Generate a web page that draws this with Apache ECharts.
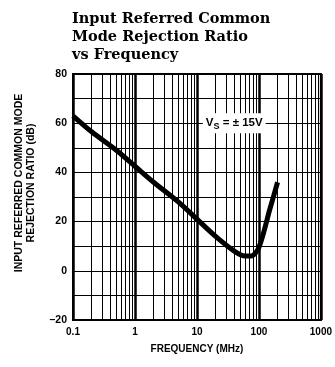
<!DOCTYPE html>
<html>
<head>
<meta charset="utf-8">
<script src="https://cdn.jsdelivr.net/npm/echarts@6/dist/echarts.min.js"></script>
<style>
  html, body { margin: 0; padding: 0; background: #fff; }
  #chart { width: 335px; height: 367px; }
</style>
</head>
<body>
<div id="chart"></div>
<script>
// curve
const freqMHz = [0.1, 0.2, 0.5, 1, 2, 5, 10, 20, 40, 60, 75, 100, 150, 200];
const cmrrDb = [63, 56.5, 49, 42.5, 36, 28, 21, 14, 8, 6, 6, 9.5, 25, 36];

// minor decade grid lines (2..9 of each decade)
const minorFreqs = [];
[0.1, 1, 10, 100].forEach(d => {
  for (let k = 2; k <= 9; k++) minorFreqs.push(+(d * k).toPrecision(3));
});

const yTickLabels = { '-20': '\u201320', '0': '0', '20': '20', '40': '40', '60': '60', '80': '80' };

const chart = echarts.init(document.getElementById('chart'));

const labelFont = 'Liberation Sans';

chart.setOption({
  animation: false,
  title: {
    text: 'Input Referred Common\nMode Rejection Ratio\nvs Frequency',
    left: 72,
    top: 10,
    padding: 0,
    textStyle: {
      fontFamily: 'DejaVu Serif',
      fontWeight: 'bold',
      fontSize: 14.5,
      lineHeight: 18,
      color: '#000',
    },
  },
  grid: { left: 73, right: 12, top: 74, bottom: 47, show: true, borderColor: '#000', borderWidth: 2 },
  xAxis: {
    type: 'log',
    logBase: 10,
    min: 0.1,
    max: 1000,
    name: 'FREQUENCY (MHz)',
    nameLocation: 'middle',
    nameGap: 24,
    nameTextStyle: { fontFamily: labelFont, fontWeight: 'bold', fontSize: 10, color: '#000' },
    axisLine: { show: true, onZero: false, lineStyle: { color: '#000', width: 2 } },
    axisTick: { show: false },
    axisLabel: {
      margin: 7,
      fontFamily: labelFont,
      fontWeight: 'bold',
      fontSize: 10,
      color: '#000',
      formatter: v => String(v),
    },
    splitLine: { show: true, lineStyle: { color: '#000', width: 2.5 } },
  },
  yAxis: {
    type: 'value',
    min: -20,
    max: 80,
    interval: 10,
    name: 'INPUT REFERRED COMMON MODE\nREJECTION RATIO (dB)',
    nameLocation: 'middle',
    nameRotate: 90,
    nameGap: 36,
    nameTextStyle: {
      fontFamily: labelFont, fontWeight: 'bold', fontSize: 10.5, lineHeight: 12, color: '#000',
      padding: [0, 0, 0, 28],
    },
    axisLine: { show: true, lineStyle: { color: '#000', width: 2 } },
    axisTick: { show: false },
    axisLabel: {
      margin: 6,
      fontFamily: labelFont,
      fontWeight: 'bold',
      fontSize: 10.5,
      color: '#000',
      formatter: v => yTickLabels[String(v)] || '',
    },
    splitLine: { show: true, lineStyle: { color: '#000', width: 1 } },
  },
  series: [
    {
      type: 'line',
      data: freqMHz.map((f, i) => [f, cmrrDb[i]]),
      smooth: 0.3,
      showSymbol: false,
      lineStyle: { color: '#000', width: 5 },
      z: 5,
      markLine: {
        silent: true,
        symbol: 'none',
        label: { show: false },
        lineStyle: { color: '#000', width: 1, type: 'solid' },
        data: minorFreqs.map(f => ({ xAxis: f })),
        z: 1,
      },
      markPoint: {
        symbol: 'rect',
        symbolSize: 1,
        itemStyle: { color: 'transparent' },
        data: [{ coord: [40, 60] }],
        label: {
          show: true,
          position: 'inside',
          backgroundColor: '#fff',
          padding: [2, 3, 2, 3],
          formatter: '{v|V}{s|S}{t| = \u00b1 15V}',
          rich: {
            v: { fontFamily: labelFont, fontWeight: 'bold', fontSize: 11.5, color: '#000' },
            s: { fontFamily: labelFont, fontWeight: 'bold', fontSize: 9, color: '#000', padding: [7, 0, 0, 0] },
            t: { fontFamily: labelFont, fontWeight: 'bold', fontSize: 11.5, color: '#000' },
          },
        },
        z: 6,
      },
    },
  ],
});
</script>
</body>
</html>
